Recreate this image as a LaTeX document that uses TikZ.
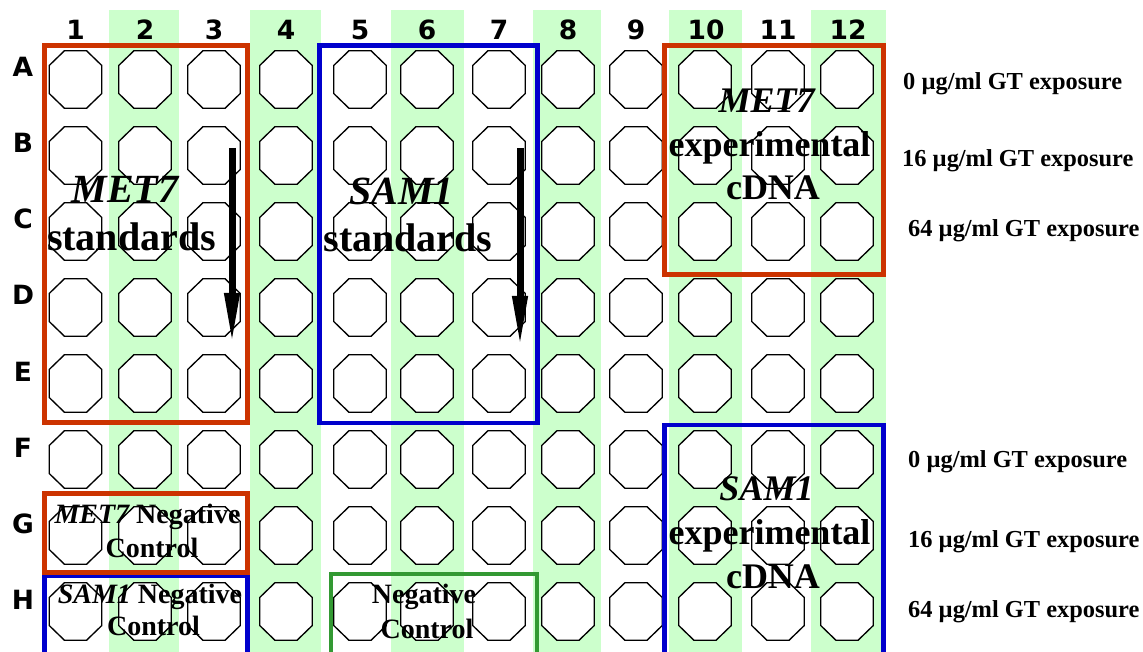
\documentclass[tikz,border=0pt]{standalone}
\usepackage{fontspec}
\setmainfont{Liberation Serif}
\newfontfamily\hdrfont{DejaVu Sans}
\usetikzlibrary{arrows.meta}
\definecolor{boxred}{RGB}{204,51,0}
\definecolor{boxblue}{RGB}{0,0,204}
\definecolor{boxgreen}{RGB}{51,153,51}
\definecolor{stripegreen}{RGB}{204,255,204}
\begin{document}
\begin{tikzpicture}[x=1pt,y=-1pt,
  stripefill/.style={fill=stripegreen,draw=none},
  wellline/.style={draw=black,fill=white,line width=1.35pt,line join=miter},
  wellpic/.pic={\path[wellline] (-11,-28.8) -- (11,-28.8) -- (26.3,-14) -- (26.3,14) -- (11,28.8) -- (-11,28.8) -- (-26.3,14) -- (-26.3,-14) -- cycle;},
  groupbox/.style={line width=4.5pt},
  hdr/.style={inner sep=0pt,anchor=base,font=\hdrfont\bfseries\fontsize{26.5}{30}\selectfont},
  big/.style={inner sep=0pt,anchor=base,font=\bfseries\fontsize{40}{48}\selectfont},
  mid/.style={inner sep=0pt,anchor=base,font=\bfseries\fontsize{36}{43}\selectfont},
  small/.style={inner sep=0pt,anchor=base,font=\bfseries\fontsize{28}{34}\selectfont},
  dose/.style={inner sep=0pt,anchor=base west,font=\bfseries\fontsize{24.4}{28}\selectfont},
  flow/.style={line width=7pt,-{Triangle[length=52pt,width=14pt]}}
]
\useasboundingbox (0,0) rectangle (1143,652);
% stripes
\foreach \xa/\xb in {109/179,250/321,391/464,533/601,669/742,811/886}
  \path[stripefill] (\xa,10) rectangle (\xb,652);
% column headers
\foreach \x/\t [count=\i] in {75.5/1,145/2,214/3,286/4,360/5,427/6,499/7,568/8,636/9,706/10,778/11,848/12}
  \node[hdr] (col\i) at (\x,40) {\t};
% row headers and wells
\foreach \r [count=\j from 0] in {A,B,C,D,E,F,G,H}{
  \node[hdr] (row\r) at (23,{77+76*\j}) {\r};
  \foreach \x in {75.5,145,214,286,360,427,499,568,636,705,778,847}
    \pic at (\x,{79.5+76*\j}) {wellpic};
}
% group boxes
\draw[groupbox,boxblue] (44.5,575.5) rectangle (247.5,670);
\draw[groupbox,boxred] (44.5,45.5) rectangle (247.5,422.5);
\draw[groupbox,boxred] (44.5,493.5) rectangle (247.5,572.5);
\draw[groupbox,boxblue] (319.5,45.5) rectangle (537.5,423);
\draw[groupbox,boxgreen] (331,574) rectangle (537,670);
\draw[groupbox,boxred] (664.5,45.5) rectangle (883.5,274.5);
\draw[groupbox,boxblue] (664.5,425) rectangle (883.5,670);
% box labels
\node[big] (metstdA) at (125,203) {\itshape MET7};
\node[big] (metstdB) at (131.5,251) {standards};
\node[big] (samstdA) at (401.5,205) {\itshape SAM1};
\node[big] (samstdB) at (408,252) {standards};
\node[mid] (metexpA) at (766.5,113) {\itshape MET7};
\node[mid] (metexpB) at (769.5,157) {experimental};
\node[mid] (metexpC) at (773,200) {cDNA};
\node[mid] (samexpA) at (766.5,500) {\itshape SAM1};
\node[mid] (samexpB) at (769.5,544) {experimental};
\node[mid] (samexpC) at (773,588) {cDNA};
\node[small] (metnegA) at (147.5,523) {{\itshape MET7} Negative};
\node[small] (metnegB) at (152,557) {Control};
\node[small] (samnegA) at (150,603) {{\itshape SAM1} Negative};
\node[small] (samnegB) at (153.5,635) {Control};
\node[small] (negA) at (424,603) {Negative};
\node[small] (negB) at (427,638) {Control};
% dose labels
\node[dose] (d1) at (903,90) {0 µg/ml GT exposure};
\node[dose] (d2) at (902,167) {16 µg/ml GT exposure};
\node[dose] (d3) at (908,237) {64 µg/ml GT exposure};
\node[dose] (d4) at (908,467) {0 µg/ml GT exposure};
\node[dose] (d5) at (908,547) {16 µg/ml GT exposure};
\node[dose] (d6) at (908,617) {64 µg/ml GT exposure};
% dilution arrows
\coordinate (arrAs) at (232,148);
\coordinate (arrAe) at (232,345);
\coordinate (arrBs) at (520,148);
\coordinate (arrBe) at (520,348);
\draw[flow] (arrAs) -- (arrAe);
\draw[flow] (arrBs) -- (arrBe);
\end{tikzpicture}
\end{document}
